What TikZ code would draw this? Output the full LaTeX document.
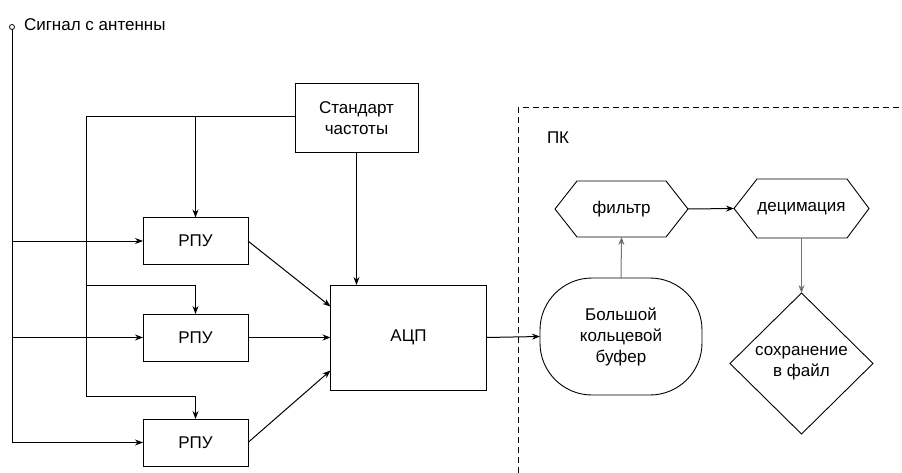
\documentclass[tikz,border=0pt]{standalone}
\usepackage{fontspec}
\setmainfont{Liberation Sans}
\usetikzlibrary{arrows.meta,shapes.geometric}
\begin{document}
\begin{tikzpicture}[x=1pt,y=-1pt,
  every node/.style={font=\fontsize{17}{20}\selectfont, inner sep=0pt, outer sep=0pt},
  box/.style={draw, line width=1pt, rectangle, align=center},
  ln/.style={line width=1pt},
  arr/.style={line width=1pt, -{Stealth[length=8pt,width=6pt]}},
  garr/.style={line width=1pt, draw=black!55, -{Stealth[length=8pt,width=6pt,fill=black]}},
  hexbox/.style={align=center},
]
\useasboundingbox (0,0) rectangle (902,473);
% antenna
\node[draw, circle, minimum size=5pt, line width=0.8pt] (ant) at (12,27) {};
\node[anchor=base west] (antlbl) at (24,31) {Сигнал с антенны};
% boxes
\node[box, minimum width=105, minimum height=47] (r1) at (195.5,241) {РПУ};
\node[box, minimum width=105, minimum height=47] (r2) at (195.5,337.5) {РПУ};
\node[box, minimum width=105, minimum height=47] (r3) at (195.5,442.5) {РПУ};
\node[box, minimum width=123, minimum height=69] (std) at (356.5,118.5) {Стандарт\\[1pt]частоты};
\node[box, minimum width=156, minimum height=105] (adc) at (408.5,337.5) {АЦП};
% PC area
\draw[ln, dashed, dash pattern=on 6pt off 4pt] (518,473) -- (518,108) -- (902,108);
\node[anchor=base west] (pk) at (547,144) {ПК};
\node[draw, line width=0.9pt, rounded corners=52pt, minimum width=162, minimum height=117, align=center] (buf) at (621,336.5) {Большой\\[1pt]кольцевой\\[1pt]буфер};
\node[hexbox, minimum width=133, minimum height=56] (filt) at (621.5,209) {фильтр};
\draw[line width=0.9pt] (filt.west) -- ([xshift=22pt]filt.north west) -- ([xshift=-22pt]filt.north east) -- (filt.east) -- ([xshift=-22pt]filt.south east) -- ([xshift=22pt]filt.south west) -- cycle;
\node[hexbox, minimum width=135, minimum height=59] (dec) at (801.5,208.5) {децимация};
\draw[line width=0.9pt] (dec.west) -- ([xshift=23pt]dec.north west) -- ([xshift=-22pt]dec.north east) -- (dec.east) -- ([xshift=-22pt]dec.south east) -- ([xshift=23pt]dec.south west) -- cycle;
\node[draw, diamond, aspect=1, line width=0.9pt, minimum width=143, minimum height=141, align=center] (sav) at (801.5,363.5) {сохранение\\[1pt]в файл};
% antenna lines
\coordinate (a1) at (12,241);
\coordinate (a2) at (12,337.5);
\coordinate (a3) at (12,442.5);
\draw[ln] (ant.south) -- (a3);
\draw[arr] (a3) -- (r3.west);
\draw[arr] (a1) -- (r1.west);
\draw[arr] (a2) -- (r2.west);
% frequency standard distribution
\coordinate (s0) at (86,117);
\coordinate (s1) at (195.5,117);
\coordinate (s2) at (86,285);
\coordinate (s3) at (86,396);
\draw[ln] (s3) -- (s0) -- (std.west |- s0);
\draw[arr] (s1) -- (r1.north);
\draw[arr] (s2) -| (r2.north);
\draw[arr] (s3) -| (r3.north);
\draw[arr] (std.south) -- (std.south |- adc.north);
% RPU to ADC
\draw[arr] (r1.east) -- ([yshift=31pt]adc.west);
\draw[arr] (r2.east) -- (adc.west);
\draw[arr] (r3.east) -- ([yshift=-33pt]adc.west);
% ADC to buffer
\draw[arr] (adc.east) -- (buf.west);
% PC flow
\draw[garr] (buf.north) -- (filt.south);
\draw[arr] (filt.east) -- (dec.west);
\draw[garr] (dec.south) -- (sav.north);
\end{tikzpicture}
\end{document}
